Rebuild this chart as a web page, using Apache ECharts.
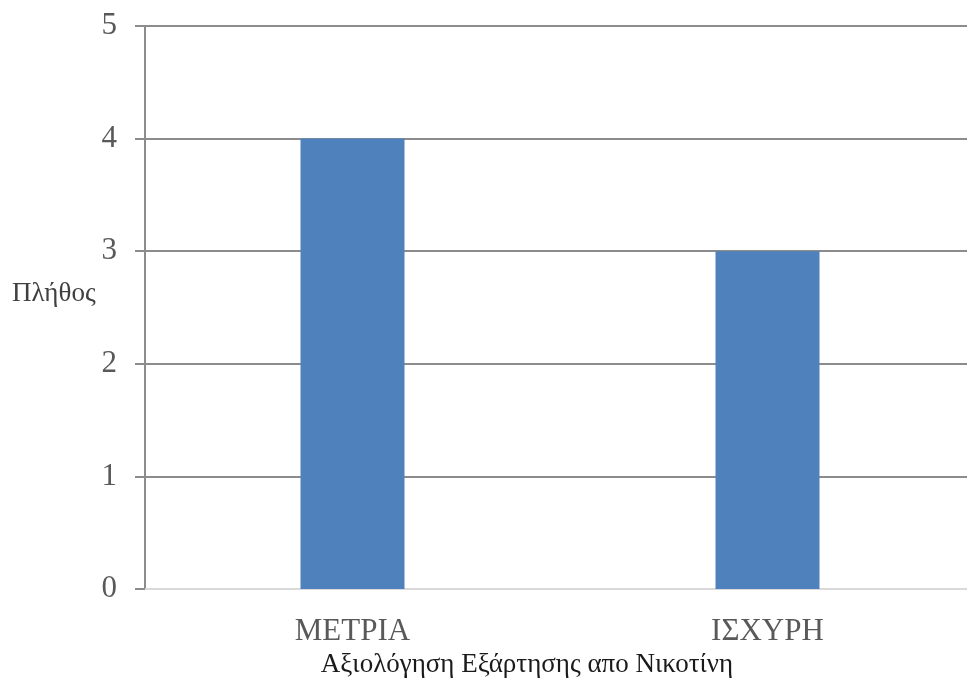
<!DOCTYPE html>
<html>
<head>
<meta charset="utf-8">
<style>
  html, body { margin: 0; padding: 0; background: #ffffff; }
  #chart { width: 967px; height: 681px; }
</style>
<script src="https://cdn.jsdelivr.net/npm/echarts@6/dist/echarts.min.js"></script>
</head>
<body>
<div id="chart"></div>
<script>
// Nicotine dependence rating: count per category
const categories = ['ΜΕΤΡΙΑ', 'ΙΣΧΥΡΗ'];
const counts = [4, 3];
const yTicks = [0, 1, 2, 3, 4, 5];

const xTitle = 'Αξιολόγηση Εξάρτησης απο Νικοτίνη';
const yTitle = 'Πλήθος';

const serif = '"Liberation Serif", "Times New Roman", serif';

const chart = echarts.init(document.getElementById('chart'), null, { renderer: 'canvas' });

chart.setOption({
  animation: false,
  backgroundColor: '#ffffff',
  grid: {
    left: 145, top: 26, width: 830, height: 563,
    containLabel: false, outerBoundsMode: 'none'
  },
  xAxis: {
    type: 'category',
    data: categories,
    name: xTitle,
    nameLocation: 'middle',
    nameGap: 62,
    nameTextStyle: { fontFamily: serif, fontSize: 27, color: '#1a1a1a', padding: [0, 66, 0, 0] },
    axisLine: { show: true, lineStyle: { color: '#d9d9d9', width: 2 } },
    axisTick: { show: false },
    axisLabel: { fontFamily: serif, fontSize: 31, color: '#595959', margin: 27 },
    splitLine: { show: false }
  },
  yAxis: {
    type: 'value',
    min: yTicks[0],
    max: yTicks[yTicks.length - 1],
    interval: 1,
    name: yTitle,
    nameLocation: 'middle',
    nameRotate: 0,
    nameGap: 44,
    nameTextStyle: { fontFamily: serif, fontSize: 27, color: '#404040', align: 'right', verticalAlign: 'bottom' },
    axisLine: { show: true, lineStyle: { color: '#8c8c8c', width: 2 } },
    axisTick: { show: true, inside: false, length: 10, lineStyle: { color: '#8c8c8c', width: 2 } },
    axisLabel: { fontFamily: serif, fontSize: 31, color: '#595959', margin: 28 },
    splitLine: { show: true, lineStyle: { color: '#8c8c8c', width: 2 } }
  },
  series: [{
    type: 'bar',
    data: counts,
    barWidth: 104,
    itemStyle: { color: '#4f81bd' },
    z: 1
  }]
});
</script>
</body>
</html>
